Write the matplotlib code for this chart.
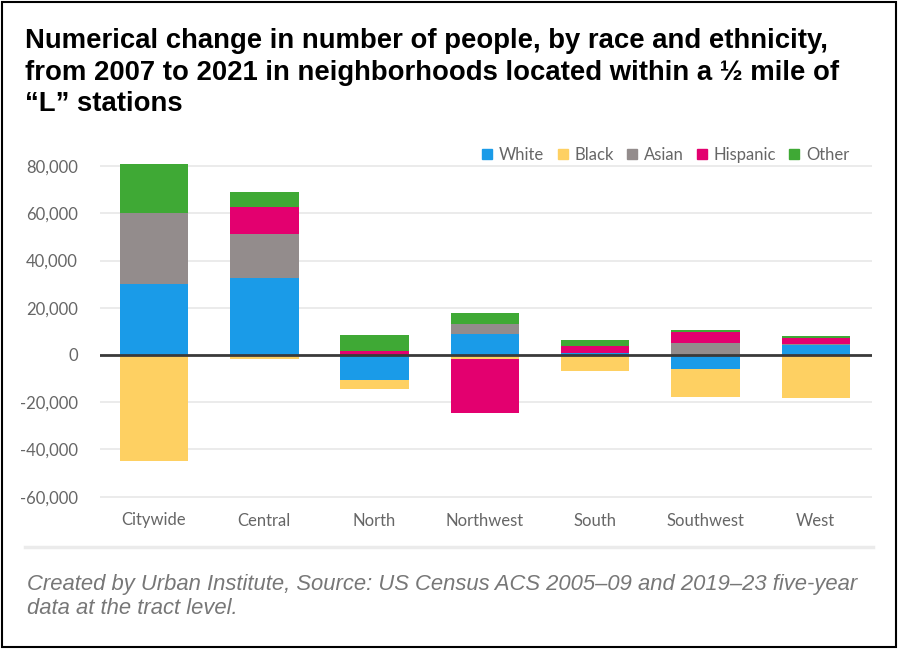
import numpy as np
import matplotlib.pyplot as plt
from matplotlib.lines import Line2D
from matplotlib.patches import Rectangle

regions = ["Citywide", "Central", "North", "Northwest", "South", "Southwest", "West"]
groups = ["White", "Black", "Asian", "Hispanic", "Other"]
white = [30000, 32700, -10600, 8750, 1000, -6000, 4300]
black = [-44700, -1800, -3650, -1500, -6800, -11900, -18300]
asian = [30000, 18400, 0, 4250, 0, 5000, 500]
hispanic = [0, 11550, 1500, -23200, 2700, 4900, 2300]
other = [21000, 6250, 6900, 4650, 2600, 500, 1000]
colors = ["#1a9be8", "#fed062", "#938c8c", "#e3006f", "#3fa935"]
yticks = [-60000, -40000, -20000, 0, 20000, 40000, 60000, 80000]

fig = plt.figure(figsize=(9, 6.5), dpi=100)
ax = fig.add_axes([100/900, 1-500/650, 772/900, 350/650])

x = np.arange(len(regions))
pos_base = np.zeros(len(regions))
neg_base = np.zeros(len(regions))
for vals, name, col in zip([white, black, asian, hispanic, other], groups, colors):
    v = np.array(vals, dtype=float)
    base = np.where(v >= 0, pos_base, neg_base)
    ax.bar(x, v, 0.62, bottom=base, color=col, label=name, zorder=3)
    pos_base = pos_base + np.where(v > 0, v, 0)
    neg_base = neg_base + np.where(v < 0, v, 0)

ax.axhline(0, color="#3a3a3a", lw=2, zorder=4)
ax.set_xlim(-0.49, 6.51)
ax.set_ylim(-61400, 86800)
ax.set_yticks(yticks)
ax.set_yticklabels([f"{t:,}" for t in yticks])
ax.grid(axis="y", color="#e8e8e8", lw=1.2, zorder=0)
ax.set_xticks(x)
ax.set_xticklabels(regions)
for s in ax.spines.values():
    s.set_visible(False)
ax.tick_params(length=0, labelsize=12, labelcolor="#666666")
ax.tick_params(axis="x", pad=9)
ax.tick_params(axis="y", pad=16)
for lab in ax.get_xticklabels() + ax.get_yticklabels():
    lab.set_fontfamily("Lato")

handles = [Line2D([0], [0], marker="s", ls="", color=c, markersize=6.5) for c in colors]
ax.legend(handles, groups, loc="center right", bbox_to_anchor=(0.99, 0.9857), ncol=5,
          frameon=False, handletextpad=0.3, columnspacing=0.7, handlelength=0.8,
          prop={"family": "Lato", "size": 12}, labelcolor="#666666")

fig.text(25/900, 1-28/650, "Numerical change in number of people, by race and ethnicity,\n"
         "from 2007 to 2021 in neighborhoods located within a \u00bd mile of\n"
         "\u201cL\u201d stations", family="Liberation Sans", weight="bold", fontsize=19.8,
         va="top", ha="left", linespacing=1.28)
fig.text(27/900, 1-574/650, "Created by Urban Institute, Source: US Census ACS 2005\u201309 and 2019\u201323 five-year\n"
         "data at the tract level.", family="Liberation Sans", style="italic", fontsize=15.8,
         color="#777777", va="top", ha="left", linespacing=1.16)

fig.add_artist(Line2D([25/900, 873/900], [1-547/650, 1-547/650], color="#ebebeb", lw=2.5))
fig.add_artist(Rectangle((0.002, 0.004), 0.993, 0.993, fill=False, ec="black", lw=1.5,
                         transform=fig.transFigure))

fig.savefig("out.png", dpi=100, facecolor="white")
